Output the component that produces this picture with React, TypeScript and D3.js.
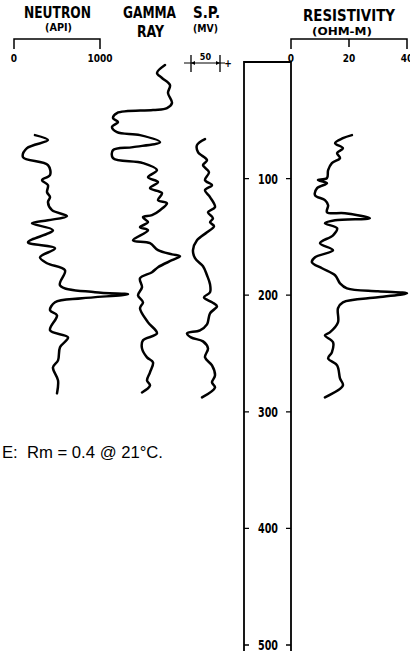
import React from 'react';
import * as d3 from 'd3';

// depth in feet, values
const neutronDepth = [62.7, 67.0, 73.9, 81.6, 88.4, 97.0, 101.3, 105.6, 111.6, 115.9, 120.2, 127.1, 132.2, 135.7, 138.3, 144.3, 154.6, 159.7, 167.5, 172.6, 178.6, 191.5, 197.5, 199.2, 202.7, 206.1, 213.0, 217.3, 230.1, 236.2, 244.7, 255.9, 261.9, 273.1, 284.2];
const neutronApi = [244, 395, 151, 105, 395, 419, 326, 395, 384, 419, 395, 442, 616, 395, 209, 453, 163, 477, 302, 384, 593, 535, 942, 1326, 791, 477, 419, 500, 419, 628, 535, 512, 453, 512, 500];

const gammaDepth = [2.6, 9.4, 13.7, 19.8, 26.6, 35.2, 39.5, 41.2, 43.8, 48.1, 51.5, 55.8, 60.1, 62.7, 68.7, 73.0, 75.6, 82.4, 86.7, 92.7, 98.8, 103.0, 108.2, 112.5, 118.5, 121.1, 127.1, 131.4, 133.1, 137.4, 141.7, 144.3, 152.9, 155.4, 161.4, 165.0, 166.6, 170.0, 176.0, 180.3, 185.5, 193.2, 200.1, 206.1, 211.2, 223.3, 232.7, 238.7, 245.6, 253.3, 257.6, 266.2, 273.1, 277.4, 283.4];
const gammaApi = [120, 104, 114, 130, 126, 134, 124, 96, 24, 16, 26, 14, 24, 70, 110, 56, 16, 16, 76, 104, 86, 106, 90, 114, 106, 124, 110, 94, 76, 86, 70, 86, 56, 90, 106, 134, 150, 134, 106, 94, 70, 74, 66, 76, 70, 86, 104, 76, 74, 84, 96, 90, 84, 90, 74];

const spDepth = [66.1, 71.3, 77.3, 84.2, 88.4, 94.5, 101.3, 105.6, 109.9, 115.9, 124.5, 128.8, 134.0, 137.4, 140.8, 146.0, 152.9, 161.4, 168.3, 175.2, 182.9, 190.6, 197.5, 201.8, 206.1, 209.5, 215.5, 225.0, 230.1, 232.7, 236.2, 239.6, 245.6, 253.3, 260.2, 268.8, 274.8, 279.1, 287.7];
const spMv = [24.1, 10.3, 12.1, 27.6, 20.7, 31.0, 24.1, 36.2, 24.1, 32.8, 41.4, 29.3, 37.9, 32.8, 39.7, 27.6, 10.3, 3.4, 6.9, 20.7, 27.6, 32.8, 32.8, 22.4, 36.2, 44.8, 32.8, 27.6, 15.5, -6.9, 0, 20.7, 29.3, 24.1, 36.2, 41.4, 36.2, 41.4, 19.0];

const resDepth = [62.7, 65.3, 69.6, 73.9, 78.1, 82.4, 86.7, 92.7, 99.6, 101.3, 103.9, 108.2, 114.2, 118.5, 122.8, 128.8, 129.7, 134.0, 135.7, 138.3, 142.6, 148.6, 155.4, 161.4, 167.5, 171.7, 176.9, 182.9, 189.8, 194.1, 196.7, 198.4, 201.8, 206.1, 211.2, 223.3, 231.9, 234.4, 240.4, 249.0, 254.2, 260.2, 271.4, 277.4, 287.7];
const resOhm = [21.0, 17.9, 15.2, 17.9, 15.9, 16.9, 14.1, 12.8, 12.4, 9.3, 12.4, 9.0, 8.3, 11.7, 12.8, 12.4, 18.6, 27.2, 15.2, 11.7, 15.9, 14.5, 10.0, 14.5, 8.3, 7.2, 10.7, 15.2, 16.9, 19.3, 30.0, 40.0, 30.0, 17.9, 16.2, 16.2, 13.4, 11.7, 14.5, 14.1, 12.8, 15.9, 16.9, 17.9, 11.7];

const depthTicks = [100, 200, 300, 400, 500];
const neutronTicks = [0, 1000];
const resTicks = [0, 20, 40];

const W = 410;
const H = 651;
const narrow = '"Liberation Sans Narrow", "DejaVu Sans Condensed", "Roboto", sans-serif';

export default function App() {
  const y = d3.scaleLinear().domain([0, 500]).range([62, 645]);
  const xNeutron = d3.scaleLinear().domain([0, 1000]).range([14, 100]);
  const xGamma = d3.scaleLinear().domain([0, 160]).range([105, 185]);
  const xSp = d3.scaleLinear().domain([0, 50]).range([191, 220]);
  const xRes = d3.scaleLinear().domain([0, 40]).range([291, 407]);

  const mkLine = (xs: d3.ScaleLinear<number, number>) =>
    d3
      .line<[number, number]>()
      .x((d) => xs(d[1]))
      .y((d) => y(d[0]))
      .curve(d3.curveCatmullRom.alpha(0.5));

  const curves = [
    mkLine(xNeutron)(d3.zip(neutronDepth, neutronApi) as [number, number][]),
    mkLine(xGamma)(d3.zip(gammaDepth, gammaApi) as [number, number][]),
    mkLine(xSp)(d3.zip(spDepth, spMv) as [number, number][]),
    mkLine(xRes)(d3.zip(resDepth, resOhm) as [number, number][]),
  ];

  const trackL = 244;
  const trackR = xRes(0);
  const sp0 = xSp(0);
  const sp50 = xSp(50);
  const spY = 63;

  return (
    <svg
      width={W}
      height={H}
      style={{ position: 'absolute', left: 0, top: 0, background: '#fff' }}
    >
      {/* headers */}
      <g fontFamily={narrow} fontWeight="bold" fill="#000" textAnchor="middle">
        <text x={57.5} y={18} fontSize={15} textLength={67} lengthAdjust="spacingAndGlyphs">NEUTRON</text>
        <text x={58.5} y={31} fontSize={10} textLength={27} lengthAdjust="spacingAndGlyphs">(API)</text>
        <text x={149.5} y={18} fontSize={15} textLength={53} lengthAdjust="spacingAndGlyphs">GAMMA</text>
        <text x={150.5} y={37} fontSize={15} textLength={27} lengthAdjust="spacingAndGlyphs">RAY</text>
        <text x={206.5} y={18} fontSize={15} textLength={27} lengthAdjust="spacingAndGlyphs">S.P.</text>
        <text x={205.5} y={32} fontSize={10} textLength={25} lengthAdjust="spacingAndGlyphs">(MV)</text>
        <text x={349} y={21} fontSize={16} textLength={92} lengthAdjust="spacingAndGlyphs">RESISTIVITY</text>
        <text x={342} y={34.5} fontSize={10} textLength={60} lengthAdjust="spacingAndGlyphs">(OHM-M)</text>
      </g>

      {/* scale brackets */}
      <g stroke="#000" strokeWidth={1.5} fill="none">
        <path d={`M${xNeutron(0)},49V39H${xNeutron(1000)}V49`} />
        <path d={`M${xRes(0)},49V39H${xRes(40)}V49M${xRes(20)},39V47`} />
      </g>
      <g fontFamily={narrow} fontWeight="bold" fontSize={10} textAnchor="middle">
        {neutronTicks.map((t) => (
          <text key={t} x={xNeutron(t)} y={62}>{t}</text>
        ))}
        {resTicks.map((t) => (
          <text key={t} x={xRes(t)} y={62}>{t}</text>
        ))}
      </g>

      {/* S.P. scale */}
      <g stroke="#000" strokeWidth={1.3} fill="none">
        <path d={`M${sp0},55V72M${sp50},55V72`} />
        <path d={`M${sp0 - 7},${spY}H${sp50 + 5}`} strokeWidth={1} />
      </g>
      <g fill="#000">
        <path d={`M${sp0},${spY}l4,-2v4z`} />
        <path d={`M${sp50},${spY}l-4,-2v4z`} />
      </g>
      <g fontFamily={narrow} fontWeight="bold" fill="#000" textAnchor="middle">
        <text x={(sp0 + sp50) / 2} y={60} fontSize={9}>50</text>
        <text x={sp50 + 8} y={67} fontSize={10}>+</text>
      </g>

      {/* depth track */}
      <g stroke="#000" fill="none">
        <path d={`M${trackL},${H}V${y(0)}H${trackR}V${H}`} strokeWidth={1.8} />
        {depthTicks.map((t) => (
          <path key={t} d={`M${trackL},${y(t)}h5M${trackR},${y(t)}h-5`} strokeWidth={1.3} />
        ))}
      </g>
      <g fontFamily={narrow} fontWeight="bold" fontSize={14} textAnchor="middle">
        {depthTicks.map((t) => (
          <text key={t} x={268} y={y(t) + 5} textLength={20} lengthAdjust="spacingAndGlyphs">{t}</text>
        ))}
      </g>

      {/* log curves */}
      <g stroke="#000" strokeWidth={2.5} fill="none" strokeLinejoin="round" strokeLinecap="round">
        {curves.map((p, i) => (
          <path key={i} d={p ?? ''} />
        ))}
      </g>

      <text
        x={2}
        y={458}
        fontFamily='"Liberation Sans", Arial, sans-serif'
        fontSize={16}
        fill="#000"
        textLength={161}
        lengthAdjust="spacingAndGlyphs"
        xmlSpace="preserve"
      >
        E:  Rm = 0.4 @ 21°C.
      </text>
    </svg>
  );
}
